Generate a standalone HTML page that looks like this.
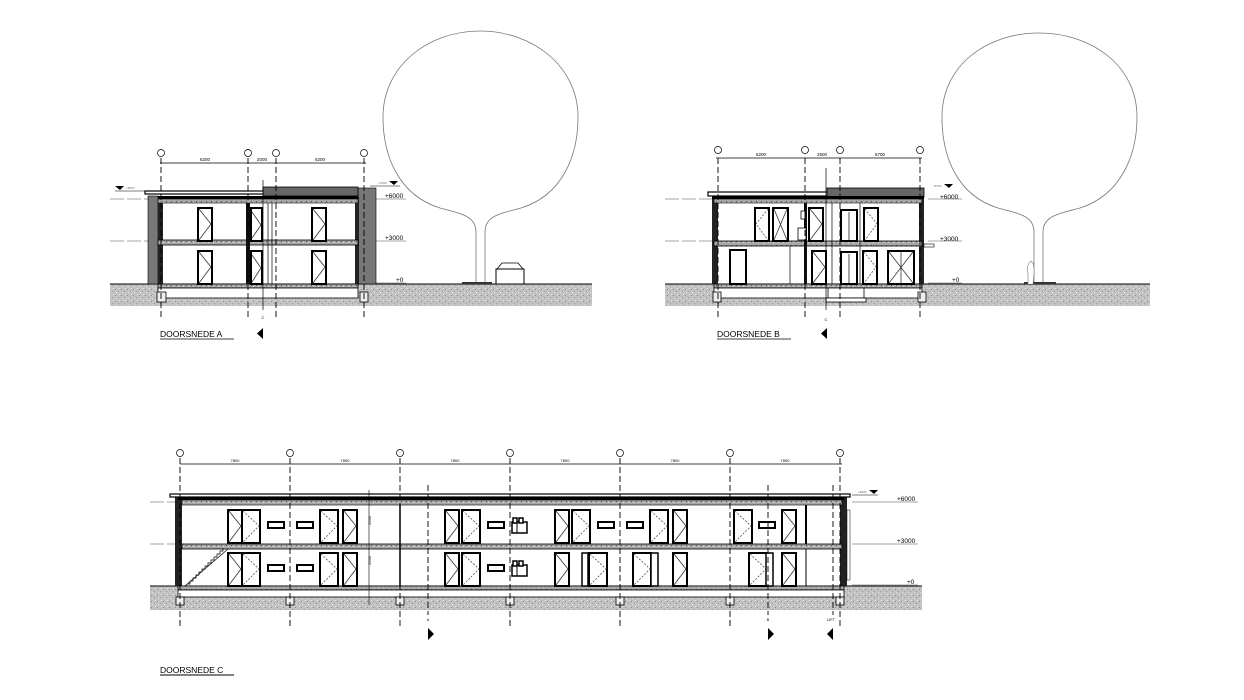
<!DOCTYPE html>
<html><head><meta charset="utf-8"><style>
html,body{margin:0;padding:0;background:#fff;}
svg{display:block;}
text{font-family:"Liberation Sans",sans-serif;}
</style></head><body>
<svg width="1244" height="700" viewBox="0 0 1244 700" xmlns="http://www.w3.org/2000/svg">
<defs>
<pattern id="grav" width="6" height="6" patternUnits="userSpaceOnUse">
<rect width="6" height="6" fill="#c2c2c2"/>
<rect x="1" y="1" width="1" height="1" fill="#888"/>
<rect x="4" y="3" width="1" height="1" fill="#999"/>
<rect x="2" y="4" width="1" height="1" fill="#e0e0e0"/>
<rect x="5" y="0" width="1" height="1" fill="#e6e6e6"/>
</pattern>
<pattern id="slab" width="5" height="4" patternUnits="userSpaceOnUse">
<rect width="5" height="4" fill="#a8a8a8"/>
<rect x="1" y="1" width="1" height="1" fill="#555"/>
<rect x="3" y="2" width="1" height="1" fill="#ddd"/>
</pattern>
<g id="dR"><rect x="0" y="0" width="14" height="33" fill="#fff" stroke="#000" stroke-width="2"/><path d="M1,1 L13,16 L1,32" fill="none" stroke="#333" stroke-width="0.8"/></g>
<g id="dW"><rect x="0" y="0" width="18" height="33" fill="#fff" stroke="#000" stroke-width="2"/><path d="M1,1 L17,16 L1,32" fill="none" stroke="#555" stroke-width="0.8" stroke-dasharray="2,1.5"/></g>
<g id="win"><rect x="0" y="0" width="16" height="6" fill="#fff" stroke="#000" stroke-width="2"/></g>
<g id="app"><rect x="0" y="4" width="15" height="11" fill="#fff" stroke="#000" stroke-width="1.5"/><rect x="1" y="0" width="4" height="5" fill="#fff" stroke="#000" stroke-width="1.5"/><rect x="7" y="0" width="4" height="5" fill="#fff" stroke="#000" stroke-width="1.5"/><line x1="5" y1="4" x2="5" y2="15" stroke="#000"/></g>
<g id="gc"><circle r="3.5" fill="#fff" stroke="#000" stroke-width="0.7"/></g>
</defs>

<!-- ================= SECTION A ================= -->
<g>
<rect x="110" y="284" width="482" height="22" fill="url(#grav)"/>
<line x1="110" y1="284" x2="592" y2="284" stroke="#000" stroke-width="1"/>
<!-- level lines -->
<g stroke="#888" stroke-width="0.7">
<line x1="110" y1="199" x2="150" y2="199" stroke-dasharray="14,3"/><line x1="376" y1="199" x2="406" y2="199"/>
<line x1="110" y1="241" x2="150" y2="241" stroke-dasharray="14,3"/><line x1="376" y1="241" x2="406" y2="241"/>
<line x1="376" y1="283" x2="406" y2="283"/>
</g>
<text x="385" y="198" font-size="6.5">+6000</text>
<text x="385" y="240" font-size="6.5">+3000</text>
<text x="396" y="282" font-size="6.5">+0</text>
<path d="M115,186 h9 l-4,4z" fill="#000"/><line x1="115" y1="191" x2="150" y2="191" stroke="#000" stroke-width="0.6"/>
<text x="126" y="189" font-size="3" fill="#666">+6500</text>
<path d="M389,181 h9 l-4,4z" fill="#000"/><line x1="370" y1="186" x2="400" y2="186" stroke="#000" stroke-width="0.6"/>
<text x="378" y="184" font-size="3" fill="#666">+7000</text>
<!-- walls -->
<rect x="148" y="196" width="10" height="88" fill="#777" stroke="#000" stroke-width="0.6"/>
<rect x="158" y="197" width="5" height="87" fill="#222"/>
<rect x="358" y="188" width="18" height="96" fill="#777" stroke="#000" stroke-width="0.6"/>
<rect x="355" y="197" width="4" height="87" fill="#222"/>
<!-- roof -->
<rect x="145" y="191" width="120" height="3" fill="#fff" stroke="#000" stroke-width="1.2"/>
<rect x="263" y="187" width="95" height="9" fill="#666" stroke="#000" stroke-width="0.8"/>
<rect x="158" y="196" width="200" height="3" fill="#000"/>
<rect x="158" y="199" width="200" height="4" fill="url(#slab)" stroke="#000" stroke-width="0.6"/>
<rect x="158" y="240" width="200" height="5" fill="url(#slab)" stroke="#000" stroke-width="0.8"/>
<rect x="158" y="284" width="200" height="4" fill="url(#slab)" stroke="#000" stroke-width="0.8"/>
<!-- foundation -->
<rect x="158" y="288" width="200" height="10" fill="#fff" stroke="#000" stroke-width="0.8"/>
<rect x="157" y="292" width="9" height="10" fill="#eee" stroke="#000" stroke-width="0.8"/>
<rect x="360" y="292" width="8" height="10" fill="#eee" stroke="#000" stroke-width="0.8"/>
<!-- inner walls -->
<rect x="246" y="203" width="4" height="81" fill="#111"/>
<line x1="268" y1="203" x2="268" y2="284" stroke="#000" stroke-width="0.7"/>
<line x1="272" y1="203" x2="272" y2="284" stroke="#000" stroke-width="0.7"/>
<!-- doors -->
<use href="#dR" x="198" y="208"/><use href="#dR" x="198" y="251"/>
<rect x="251" y="208" width="11" height="33" fill="#fff" stroke="#000" stroke-width="2"/><path d="M252,212 L261,225 L252,238" stroke="#333" fill="none" stroke-width="0.8"/>
<rect x="251" y="251" width="11" height="33" fill="#fff" stroke="#000" stroke-width="2"/><path d="M252,255 L261,268 L252,282" stroke="#333" fill="none" stroke-width="0.8"/>
<use href="#dR" x="312" y="208"/><use href="#dR" x="312" y="251"/>
<!-- grid -->
<g stroke="#000" stroke-width="0.9" stroke-dasharray="6,3">
<line x1="161" y1="158" x2="161" y2="318"/><line x1="248" y1="158" x2="248" y2="318"/>
<line x1="276" y1="158" x2="276" y2="318"/><line x1="364" y1="158" x2="364" y2="318"/>
</g>
<line x1="263" y1="180" x2="263" y2="310" stroke="#000" stroke-width="0.7"/>
<line x1="160" y1="163" x2="366" y2="163" stroke="#000" stroke-width="0.7"/>
<use href="#gc" x="161" y="153"/><use href="#gc" x="248" y="153"/><use href="#gc" x="276" y="153"/><use href="#gc" x="364" y="153"/>
<text x="205" y="161" font-size="4.5" text-anchor="middle">6200</text>
<text x="262" y="161" font-size="4.5" text-anchor="middle">2000</text>
<text x="320" y="161" font-size="4.5" text-anchor="middle">6200</text>
<text x="263" y="319" font-size="4" text-anchor="middle">C</text>
<path d="M263,328 v11 l-6,-5.5z" fill="#000"/>
<text x="160" y="337" font-size="8.5">DOORSNEDE A</text>
<line x1="160" y1="339" x2="234" y2="339" stroke="#000" stroke-width="0.7"/>
<!-- tree -->
<path d="M476,284 L476,232 C476,216 462,214 440,208 C398,195 383,155 383,117 C383,66 428,31 480,31 C532,31 578,66 578,117 C578,155 563,195 521,208 C499,214 485,216 485,232 L485,284" fill="none" stroke="#777" stroke-width="0.8"/>
<rect x="462" y="282" width="30" height="2" fill="#333"/>
<!-- car -->
<rect x="496" y="269" width="28" height="15" fill="#fff" stroke="#000" stroke-width="1"/>
<path d="M497,269 L502,263 L518,263 L523,269" fill="none" stroke="#000" stroke-width="0.8"/>
</g>

<!-- ================= SECTION B ================= -->
<g>
<rect x="665" y="284" width="485" height="22" fill="url(#grav)"/>
<line x1="665" y1="284" x2="1150" y2="284" stroke="#000" stroke-width="1"/>
<g stroke="#888" stroke-width="0.7">
<line x1="665" y1="199" x2="712" y2="199" stroke-dasharray="14,3"/><line x1="928" y1="199" x2="962" y2="199"/>
<line x1="665" y1="241" x2="712" y2="241" stroke-dasharray="14,3"/><line x1="928" y1="241" x2="962" y2="241"/>
<line x1="928" y1="283" x2="962" y2="283"/>
</g>
<text x="940" y="199" font-size="6.5">+6000</text>
<text x="940" y="241" font-size="6.5">+3000</text>
<text x="952" y="282" font-size="6.5">+0</text>
<path d="M944,184 h9 l-4,4z" fill="#000"/><text x="933" y="187" font-size="3" fill="#666">+6750</text>
<rect x="712" y="198" width="6" height="86" fill="#222"/>
<rect x="919" y="198" width="5" height="86" fill="#222"/>
<rect x="708" y="192" width="120" height="4" fill="#fff" stroke="#000" stroke-width="1.2"/>
<rect x="827" y="188" width="97" height="9" fill="#666" stroke="#000" stroke-width="0.8"/>
<rect x="712" y="196" width="212" height="3" fill="#000"/>
<rect x="714" y="199" width="208" height="4" fill="url(#slab)" stroke="#000" stroke-width="0.6"/>
<rect x="714" y="241" width="208" height="5" fill="url(#slab)" stroke="#000" stroke-width="0.8"/>
<rect x="714" y="284" width="208" height="4" fill="url(#slab)" stroke="#000" stroke-width="0.8"/>
<rect x="714" y="288" width="208" height="10" fill="#fff" stroke="#000" stroke-width="0.8"/>
<rect x="713" y="292" width="8" height="10" fill="#eee" stroke="#000" stroke-width="0.8"/>
<rect x="918" y="292" width="8" height="10" fill="#eee" stroke="#000" stroke-width="0.8"/>
<rect x="828" y="288" width="36" height="10" fill="#fff" stroke="#000" stroke-width="0.8"/>
<rect x="826" y="298" width="40" height="4" fill="#fff" stroke="#000" stroke-width="0.8"/>
<rect x="924" y="244" width="10" height="3" fill="#fff" stroke="#000" stroke-width="0.6"/>
<rect x="804" y="203" width="3" height="81" fill="#111"/>
<line x1="832" y1="203" x2="832" y2="284" stroke="#000" stroke-width="0.7"/>
<line x1="860" y1="203" x2="860" y2="284" stroke="#000" stroke-width="0.7"/>
<line x1="790" y1="246" x2="790" y2="284" stroke="#000" stroke-width="0.7"/>
<!-- doors B -->
<rect x="755" y="208" width="14" height="33" fill="#fff" stroke="#000" stroke-width="2"/><path d="M768,209 L756,224 L768,240" stroke="#555" fill="none" stroke-width="0.8" stroke-dasharray="2,1.5"/>
<rect x="773" y="208" width="15" height="33" fill="#fff" stroke="#000" stroke-width="2"/><path d="M774,209 L787,240 M787,209 L774,240" stroke="#333" fill="none" stroke-width="0.8"/>
<use href="#dR" x="809" y="208"/>
<rect x="801" y="211" width="4" height="8" fill="#fff" stroke="#000" stroke-width="0.8"/>
<rect x="798" y="228" width="8" height="12" fill="#fff" stroke="#000" stroke-width="0.8"/>
<rect x="841" y="210" width="16" height="31" fill="#fff" stroke="#000" stroke-width="2"/><line x1="849" y1="212" x2="849" y2="241" stroke="#000" stroke-width="0.7"/>
<rect x="864" y="208" width="14" height="33" fill="#fff" stroke="#000" stroke-width="2"/><path d="M865,209 L877,224 L865,240" stroke="#555" fill="none" stroke-width="0.8" stroke-dasharray="2,1.5"/>
<rect x="730" y="250" width="16" height="34" fill="#fff" stroke="#000" stroke-width="2"/>
<use href="#dR" x="812" y="251"/>
<rect x="841" y="252" width="16" height="32" fill="#fff" stroke="#000" stroke-width="2"/><line x1="849" y1="254" x2="849" y2="284" stroke="#000" stroke-width="0.7"/>
<rect x="863" y="251" width="14" height="33" fill="#fff" stroke="#000" stroke-width="2"/><path d="M864,252 L876,267 L864,283" stroke="#555" fill="none" stroke-width="0.8" stroke-dasharray="2,1.5"/>
<rect x="888" y="251" width="26" height="33" fill="#fff" stroke="#000" stroke-width="2"/><path d="M889,252 L913,283 M913,252 L889,283 M901,252 V284" stroke="#333" fill="none" stroke-width="0.8"/>
<g stroke="#000" stroke-width="0.9" stroke-dasharray="6,3">
<line x1="718" y1="158" x2="718" y2="318"/><line x1="805" y1="158" x2="805" y2="318"/>
<line x1="840" y1="158" x2="840" y2="318"/><line x1="920" y1="158" x2="920" y2="318"/>
</g>
<line x1="826" y1="168" x2="826" y2="310" stroke="#000" stroke-width="0.7"/>
<line x1="716" y1="158" x2="922" y2="158" stroke="#000" stroke-width="0.7"/>
<use href="#gc" x="718" y="150"/><use href="#gc" x="805" y="150"/><use href="#gc" x="840" y="150"/><use href="#gc" x="920" y="150"/>
<text x="761" y="156" font-size="4.5" text-anchor="middle">6200</text>
<text x="822" y="156" font-size="4.5" text-anchor="middle">2500</text>
<text x="880" y="156" font-size="4.5" text-anchor="middle">5700</text>
<text x="826" y="321" font-size="4" text-anchor="middle">C</text>
<path d="M827,328 v11 l-6,-5.5z" fill="#000"/>
<text x="717" y="337" font-size="8.5">DOORSNEDE B</text>
<line x1="717" y1="339" x2="791" y2="339" stroke="#000" stroke-width="0.7"/>
<path d="M1034,284 L1034,232 C1034,216 1020,214 998,208 C956,195 942,155 942,117 C942,66 986,33 1039,33 C1092,33 1137,66 1137,117 C1137,155 1121,195 1080,208 C1058,214 1043,216 1043,232 L1043,284" fill="none" stroke="#777" stroke-width="0.8"/>
<rect x="1024" y="282" width="32" height="2" fill="#333"/>
<path d="M1028,284 v-10 l-1,-6 l2,-5 l2,-2 l2,2 l1,5 v6 l-1,10" fill="#fff" stroke="#777" stroke-width="0.6"/>
</g>

<!-- ================= SECTION C ================= -->
<g>
<rect x="150" y="586" width="772" height="24" fill="url(#grav)"/>
<line x1="150" y1="586" x2="922" y2="586" stroke="#000" stroke-width="1"/>
<g stroke="#888" stroke-width="0.7">
<line x1="150" y1="502" x2="175" y2="502" stroke-dasharray="14,3"/><line x1="852" y1="502" x2="918" y2="502"/>
<line x1="150" y1="544" x2="175" y2="544" stroke-dasharray="14,3"/><line x1="852" y1="544" x2="918" y2="544"/>
<line x1="852" y1="585" x2="918" y2="585"/>
</g>
<text x="897" y="501" font-size="6.5">+6000</text>
<text x="897" y="543" font-size="6.5">+3000</text>
<text x="907" y="584" font-size="6.5">+0</text>
<path d="M869,490 h9 l-4,4z" fill="#000"/><line x1="852" y1="495" x2="878" y2="495" stroke="#000" stroke-width="0.6"/><text x="858" y="493" font-size="3" fill="#666">+6500</text>
<!-- walls -->
<rect x="175" y="497" width="7" height="89" fill="#222"/>
<rect x="840" y="497" width="7" height="89" fill="#222"/>
<rect x="847" y="510" width="3" height="70" fill="#fff" stroke="#000" stroke-width="0.5"/>
<!-- roof & slabs -->
<rect x="170" y="494" width="680" height="3" fill="#fff" stroke="#000" stroke-width="1.2"/>
<rect x="178" y="497" width="666" height="3" fill="#000"/>
<rect x="182" y="500" width="660" height="5" fill="url(#slab)" stroke="#000" stroke-width="0.6"/>
<rect x="182" y="544" width="660" height="5" fill="url(#slab)" stroke="#000" stroke-width="0.8"/>
<rect x="178" y="586" width="666" height="4" fill="url(#slab)" stroke="#000" stroke-width="0.8"/>
<rect x="178" y="590" width="666" height="7" fill="#fff" stroke="#000" stroke-width="0.8"/>
<g fill="#eee" stroke="#000" stroke-width="0.8">
<rect x="176" y="597" width="8" height="8"/><rect x="286" y="597" width="8" height="8"/><rect x="396" y="597" width="8" height="8"/>
<rect x="506" y="597" width="8" height="8"/><rect x="616" y="597" width="8" height="8"/><rect x="726" y="597" width="8" height="8"/><rect x="836" y="597" width="8" height="8"/>
</g>
<line x1="400" y1="505" x2="400" y2="586" stroke="#000" stroke-width="1.5"/>
<line x1="806" y1="505" x2="806" y2="544" stroke="#000" stroke-width="2"/>
<line x1="806" y1="549" x2="806" y2="586" stroke="#000" stroke-width="1"/>
<line x1="369" y1="490" x2="369" y2="605" stroke="#000" stroke-width="0.6"/>
<text transform="translate(371,525) rotate(-90)" font-size="4">2550</text>
<text transform="translate(371,565) rotate(-90)" font-size="4">2550</text>
<!-- stair -->
<path d="M185,586 L228,549 M187,584 h3 v-3 h3 v-3 h3 v-3 h3 v-3 h3 v-3 h3 v-3 h3 v-3 h3 v-3 h3 v-3 h3 v-3 h3 v-3 h3 v-3" fill="none" stroke="#000" stroke-width="0.7"/>
<!-- upper floor -->
<use href="#dR" x="228" y="510"/><use href="#dW" x="242" y="510"/>
<use href="#win" x="268" y="522"/><use href="#win" x="297" y="522"/>
<use href="#dW" x="320" y="510"/><use href="#dR" x="343" y="510"/>
<use href="#dR" x="445" y="510"/><use href="#dW" x="462" y="510"/>
<use href="#win" x="488" y="522"/><use href="#app" x="512" y="518"/>
<use href="#dR" x="555" y="510"/><use href="#dW" x="572" y="510"/>
<use href="#win" x="598" y="522"/><use href="#win" x="627" y="522"/>
<use href="#dW" x="650" y="510"/><use href="#dR" x="673" y="510"/>
<use href="#dW" x="734" y="510"/><use href="#win" x="759" y="522"/><use href="#dR" x="782" y="510"/>
<!-- lower floor -->
<use href="#dR" x="228" y="553"/><use href="#dW" x="242" y="553"/>
<use href="#win" x="268" y="565"/><use href="#win" x="297" y="565"/>
<use href="#dW" x="320" y="553"/><use href="#dR" x="343" y="553"/>
<use href="#dR" x="445" y="553"/><use href="#dW" x="462" y="553"/>
<use href="#win" x="488" y="565"/><use href="#app" x="512" y="561"/>
<use href="#dR" x="555" y="553"/>
<rect x="582" y="553" width="6" height="33" fill="#fff" stroke="#000" stroke-width="1.5"/><use href="#dW" x="589" y="553"/>
<use href="#dW" x="633" y="553"/><rect x="651" y="553" width="7" height="33" fill="#fff" stroke="#000" stroke-width="1.5"/>
<use href="#dR" x="673" y="553"/>
<use href="#dW" x="749" y="553"/><rect x="766" y="553" width="7" height="33" fill="#fff" stroke="#000" stroke-width="1.5"/>
<use href="#dR" x="782" y="553"/>
<!-- grid -->
<g stroke="#000" stroke-width="0.9" stroke-dasharray="6,3">
<line x1="180" y1="458" x2="180" y2="628"/><line x1="290" y1="458" x2="290" y2="628"/><line x1="400" y1="458" x2="400" y2="628"/>
<line x1="510" y1="458" x2="510" y2="628"/><line x1="620" y1="458" x2="620" y2="628"/><line x1="730" y1="458" x2="730" y2="628"/><line x1="840" y1="458" x2="840" y2="628"/>
<line x1="428" y1="485" x2="428" y2="615"/><line x1="768" y1="485" x2="768" y2="615"/><line x1="833" y1="485" x2="833" y2="615"/>
</g>
<line x1="180" y1="464" x2="842" y2="464" stroke="#000" stroke-width="0.7"/>
<use href="#gc" x="180" y="453"/><use href="#gc" x="290" y="453"/><use href="#gc" x="400" y="453"/><use href="#gc" x="510" y="453"/>
<use href="#gc" x="620" y="453"/><use href="#gc" x="730" y="453"/><use href="#gc" x="840" y="453"/>
<g font-size="4" text-anchor="middle">
<text x="235" y="462">7800</text><text x="345" y="462">7800</text><text x="455" y="462">7800</text>
<text x="565" y="462">7800</text><text x="675" y="462">7800</text><text x="785" y="462">7800</text>
<text x="428" y="621">A</text><text x="768" y="621">B</text><text x="831" y="621">LIFT</text>
</g>
<path d="M428,628 v12 l6,-6z" fill="#000"/>
<path d="M768,628 v12 l6,-6z" fill="#000"/>
<path d="M833,628 v12 l-6,-6z" fill="#000"/>
<text x="160" y="673" font-size="8.5">DOORSNEDE C</text>
<line x1="160" y1="675" x2="234" y2="675" stroke="#000" stroke-width="0.9"/>
</g>
</svg>
</body></html>
